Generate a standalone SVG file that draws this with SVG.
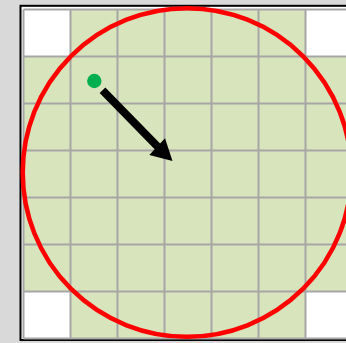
<svg xmlns="http://www.w3.org/2000/svg" width="346" height="343" viewBox="0 0 346 343">
<style>
.cell{fill:#d8e4bc}
.blank{fill:#ffffff}
.grid line{stroke:#a6a6a6;stroke-width:2}
</style>
<rect x="0" y="0" width="346" height="343" fill="#d9d9d9"/>
<rect id="frame" x="20.5" y="5.8" width="340" height="334.2" fill="#ffffff" stroke="#000000" stroke-width="2"/>
<g id="cells">
<rect class="cell" x="23.5" y="9.5" width="329" height="329"/>
<rect class="blank" x="23.5" y="9.5" width="47" height="47"/>
<rect class="blank" x="305.5" y="9.5" width="47" height="47"/>
<rect class="blank" x="23.5" y="291.5" width="47" height="47"/>
<rect class="blank" x="305.5" y="291.5" width="47" height="47"/>
</g>
<g class="grid" id="grid">
<line x1="23.5" y1="9.5" x2="23.5" y2="338.5"/>
<line x1="70.5" y1="9.5" x2="70.5" y2="338.5"/>
<line x1="117.5" y1="9.5" x2="117.5" y2="338.5"/>
<line x1="164.5" y1="9.5" x2="164.5" y2="338.5"/>
<line x1="211.5" y1="9.5" x2="211.5" y2="338.5"/>
<line x1="258.5" y1="9.5" x2="258.5" y2="338.5"/>
<line x1="305.5" y1="9.5" x2="305.5" y2="338.5"/>
<line x1="23.5" y1="9.5" x2="352.5" y2="9.5"/>
<line x1="23.5" y1="56.5" x2="352.5" y2="56.5"/>
<line x1="23.5" y1="103.5" x2="352.5" y2="103.5"/>
<line x1="23.5" y1="150.5" x2="352.5" y2="150.5"/>
<line x1="23.5" y1="197.5" x2="352.5" y2="197.5"/>
<line x1="23.5" y1="244.5" x2="352.5" y2="244.5"/>
<line x1="23.5" y1="291.5" x2="352.5" y2="291.5"/>
<line x1="23.5" y1="338.5" x2="352.5" y2="338.5"/>
</g>
<g id="circle">
<circle cx="187" cy="172.5" r="164.3" fill="none" stroke="#ff0000" stroke-width="4.6"/>
</g>
<g id="dot">
<circle cx="94.3" cy="81" r="7.2" fill="#00b050"/>
</g>
<g id="connectors">
<line x1="102.5" y1="90.3" x2="158" y2="147" stroke="#000000" stroke-width="8"/>
<polygon points="172.5,161 149.3,155 165,138.3" fill="#000000"/>
</g>
</svg>
